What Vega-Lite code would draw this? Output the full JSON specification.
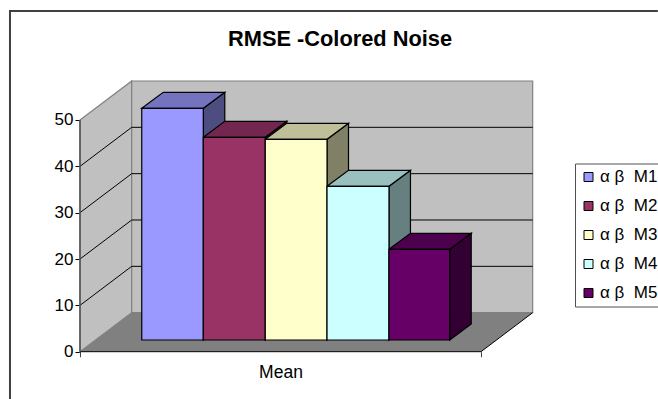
{
"$schema":"https://vega.github.io/schema/vega-lite/v6.json",
"width":658,"height":399,"padding":0,"autosize":{"type":"none"},
"background":"white",
"title":{"text":"RMSE -Colored Noise","font":"Liberation Sans","fontSize":21.8,"fontWeight":"bold","color":"black","anchor":"start","frame":"group","dx":228,"dy":68,"offset":0,"baseline":"alphabetic"},
"config":{"view":{"stroke":null},"font":"Liberation Sans"},
"datasets":{
"bars":[
{"series":"α β\u00a0\u00a0M1","x":15.4,"x2":30.75,"y":52.52,"y2":2.52},
{"series":"α β\u00a0\u00a0M2","x":30.75,"x2":46.2,"y":46.27,"y2":2.52},
{"series":"α β\u00a0\u00a0M3","x":46.2,"x2":61.6,"y":45.83,"y2":2.52},
{"series":"α β\u00a0\u00a0M4","x":61.6,"x2":77.05,"y":35.69,"y2":2.52},
{"series":"α β\u00a0\u00a0M5","x":77.05,"x2":92.2,"y":22.1,"y2":2.52}],
"tops":[
{"series":"M1","x":15.4,"y":52.52,"y2":52.52},{"series":"M1","x":20.76,"y":55.97,"y2":52.52},{"series":"M1","x":30.75,"y":55.97,"y2":52.52},{"series":"M1","x":36.11,"y":55.97,"y2":55.97},
{"series":"M2","x":30.75,"y":46.27,"y2":46.27},{"series":"M2","x":36.11,"y":49.72,"y2":46.27},{"series":"M2","x":46.2,"y":49.72,"y2":46.27},{"series":"M2","x":51.56,"y":49.72,"y2":49.72},
{"series":"M3","x":46.2,"y":45.83,"y2":45.83},{"series":"M3","x":51.56,"y":49.28,"y2":45.83},{"series":"M3","x":61.6,"y":49.28,"y2":45.83},{"series":"M3","x":66.96,"y":49.28,"y2":49.28},
{"series":"M4","x":61.6,"y":35.69,"y2":35.69},{"series":"M4","x":66.96,"y":39.14,"y2":35.69},{"series":"M4","x":77.05,"y":39.14,"y2":35.69},{"series":"M4","x":82.41,"y":39.14,"y2":39.14},
{"series":"M5","x":77.05,"y":22.1,"y2":22.1},{"series":"M5","x":82.41,"y":25.55,"y2":22.1},{"series":"M5","x":92.2,"y":25.55,"y2":22.1},{"series":"M5","x":97.56,"y":25.55,"y2":25.55}],
"sides":[
{"series":"M1","x":30.75,"y":52.52,"y2":2.52},{"series":"M1","x":36.11,"y":55.97,"y2":5.97},
{"series":"M2","x":46.2,"y":46.27,"y2":2.52},{"series":"M2","x":51.56,"y":49.72,"y2":5.97},
{"series":"M3","x":61.6,"y":45.83,"y2":2.52},{"series":"M3","x":66.96,"y":49.28,"y2":5.97},
{"series":"M4","x":77.05,"y":35.69,"y2":2.52},{"series":"M4","x":82.41,"y":39.14,"y2":5.97},
{"series":"M5","x":92.2,"y":22.1,"y2":2.52},{"series":"M5","x":97.56,"y":25.55,"y2":5.97}],
"walls":[
{"g":"left","x":0,"y":50,"y2":0},{"g":"left","x":12.89,"y":58.42,"y2":8.42},
{"g":"back","x":12.89,"y":58.42,"y2":8.42},{"g":"back","x":112.89,"y":58.42,"y2":8.42}],
"floor":[
{"x":0,"y":0,"y2":0},{"x":12.89,"y":8.42,"y2":0},{"x":100,"y":8.42,"y2":0},{"x":112.89,"y":8.42,"y2":8.42}],
"grid":[
{"g":"10","x":0,"y":10},{"g":"10","x":12.89,"y":18.42},{"g":"10","x":112.89,"y":18.42},
{"g":"20","x":0,"y":20},{"g":"20","x":12.89,"y":28.42},{"g":"20","x":112.89,"y":28.42},
{"g":"30","x":0,"y":30},{"g":"30","x":12.89,"y":38.42},{"g":"30","x":112.89,"y":38.42},
{"g":"40","x":0,"y":40},{"g":"40","x":12.89,"y":48.42},{"g":"40","x":112.89,"y":48.42}],
"edge":[{"x":0,"y":0,"i":0},{"x":100,"y":0,"i":1},{"x":112.89,"y":8.42,"i":2}],
"axisline":[{"x":0,"y":0},{"x":0,"y":50}],
"frame":[{"x":-17.46,"y":-10.2,"i":0},{"x":-17.46,"y":73.5,"i":1},{"x":144.1,"y":73.5,"i":2}]
},
"encoding":{
"x":{"field":"x","type":"quantitative","title":null,"scale":{"domain":[-19.95,144.14],"nice":false,"zero":false},
"axis":{"orient":"bottom","offset":-47.3,"values":[0,50,100],"labelExpr":"datum.value==50?'Mean':''","domain":false,"grid":false,"tickSize":5,"tickColor":"#404040","tickOpacity":{"condition":{"test":"datum.value==50","value":0},"value":1},"labelFontSize":17.5,"labelColor":"black","labelFont":"Liberation Sans","labelPadding":6.5,"labelFlush":false,"labelOverlap":false,"title":null}},
"y":{"field":"y","type":"quantitative","title":null,"scale":{"domain":[-10.207,75.894],"nice":false,"zero":false},
"axis":{"orient":"left","offset":-80,"values":[0,10,20,30,40,50],"domain":false,"grid":false,"tickSize":5,"tickColor":"black","labelFontSize":17,"labelColor":"black","labelFont":"Liberation Sans","labelPadding":2,"title":null}}
},
"layer":[
{"data":{"name":"frame"},"mark":{"type":"line","stroke":"#404040","strokeWidth":2,"clip":true},"encoding":{"order":{"field":"i"}}},
{"data":{"name":"walls"},"mark":{"type":"area","fill":"#c0c0c0","stroke":"#808080","strokeWidth":1.2},"encoding":{"y2":{"field":"y2"},"detail":{"field":"g"}}},
{"data":{"name":"floor"},"mark":{"type":"area","fill":"#808080"},"encoding":{"y2":{"field":"y2"}}},
{"data":{"name":"grid"},"mark":{"type":"line","stroke":"black","strokeWidth":1},"encoding":{"detail":{"field":"g"},"order":{"field":"x"}}},
{"data":{"name":"edge"},"mark":{"type":"line","stroke":"black","strokeWidth":1},"encoding":{"order":{"field":"i"}}},
{"data":{"name":"axisline"},"mark":{"type":"line","stroke":"#505050","strokeWidth":1.5},"encoding":{}},
{"data":{"name":"sides"},"mark":{"type":"area","stroke":"black","strokeWidth":1.2},"encoding":{"y2":{"field":"y2"},"fill":{"field":"series","type":"nominal","legend":null,"scale":{"domain":["M1","M2","M3","M4","M5"],"range":["#4d4d80","#4d1a33","#808066","#668080","#330033"]}}}},
{"data":{"name":"tops"},"mark":{"type":"area","stroke":"black","strokeWidth":1.2},"encoding":{"y2":{"field":"y2"},"fill":{"field":"series","type":"nominal","legend":null,"scale":{"domain":["M1","M2","M3","M4","M5"],"range":["#7373bf","#732650","#bfbf99","#99bfbf","#4d004d"]}}}},
{"data":{"name":"bars"},"mark":{"type":"rect","stroke":"black","strokeWidth":1.2},"encoding":{"x2":{"field":"x2"},"y2":{"field":"y2"},"fill":{"field":"series","type":"nominal","scale":{"domain":["α β\u00a0\u00a0M1","α β\u00a0\u00a0M2","α β\u00a0\u00a0M3","α β\u00a0\u00a0M4","α β\u00a0\u00a0M5"],"range":["#9999ff","#993366","#ffffcc","#ccffff","#660066"]},
"legend":{"orient":"none","legendX":575,"legendY":163.5,"title":null,"symbolType":"square","symbolSize":81,"symbolStrokeColor":"black","symbolStrokeWidth":1,"labelFont":"Liberation Sans","labelFontSize":17,"labelColor":"black","labelOffset":3,"labelLimit":200,"rowPadding":11,"padding":5,"fillColor":"white","strokeColor":"#505050","symbolOffset":0}}}}
],
"resolve":{"scale":{"fill":"independent"},"legend":{"fill":"independent"}}
}
